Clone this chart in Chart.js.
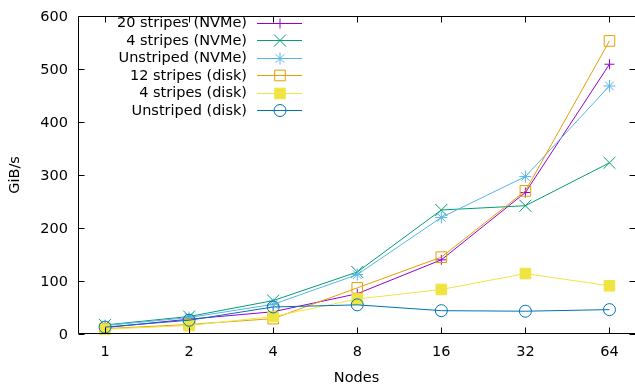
<!DOCTYPE html>
<html>
<head>
<meta charset="utf-8">
<script src="https://cdn.jsdelivr.net/npm/chart.js@4/dist/chart.umd.min.js"></script>
<style>
  html, body { margin: 0; padding: 0; background: #fff; }
  #wrap { width: 635px; height: 388px; position: relative; }
</style>
</head>
<body>
<div id="wrap"><canvas id="c" width="635" height="388"></canvas></div>
<script>
// ---- data ----
const nodes = [1, 2, 4, 8, 16, 32, 64];
const stripes20Nvme = [12, 28, 42, 76, 140, 267, 509];
const stripes4Nvme = [17, 33, 63, 117, 234, 242, 323];
const unstripedNvme = [16, 31, 56, 112, 220, 297, 468];
const stripes12Disk = [10, 18, 29, 87, 145, 270, 553];
const stripes4Disk = [9, 16, 33, 66, 84, 114, 91];
const unstripedDisk = [13, 26, 51, 55, 44, 43, 46];
const seriesLabels = ['20 stripes (NVMe)', '4 stripes (NVMe)', 'Unstriped (NVMe)', '12 stripes (disk)', '4 stripes (disk)', 'Unstriped (disk)'];
const yTicks = [0, 100, 200, 300, 400, 500, 600];

const FONT = "'DejaVu Sans', sans-serif";
const FS = 14.5;

function pts(vals) { return nodes.map((n, i) => ({ x: n, y: vals[i] })); }

const styles = [
  { color: '#9400d3', pointStyle: 'cross', radius: 5, fill: false },
  { color: '#009e73', pointStyle: 'crossRot', radius: 8.5, fill: false },
  { color: '#56b4e9', pointStyle: 'star', radius: 6, fill: false },
  { color: '#e69f00', pointStyle: 'rect', radius: 7.5, fill: false },
  { color: '#f0e442', pointStyle: 'rect', radius: 7.5, fill: true },
  { color: '#0072b2', pointStyle: 'circle', radius: 6, fill: false }
];
const allValues = [stripes20Nvme, stripes4Nvme, unstripedNvme, stripes12Disk, stripes4Disk, unstripedDisk];

const datasets = allValues.map((vals, i) => ({
  label: seriesLabels[i],
  data: pts(vals),
  borderColor: styles[i].color,
  backgroundColor: styles[i].fill ? styles[i].color : 'rgba(0,0,0,0)',
  pointBackgroundColor: styles[i].fill ? styles[i].color : 'rgba(0,0,0,0)',
  pointBorderColor: styles[i].color,
  pointStyle: styles[i].pointStyle,
  pointRadius: styles[i].radius,
  pointBorderWidth: 1,
  borderWidth: 1,
  tension: 0,
  fill: false,
  clip: false,
  order: 10 - i
}));

// gnuplot-like frame, inward mirrored ticks and key
const framePlugin = {
  id: 'frame',
  afterDraw(chart) {
    const ctx = chart.ctx;
    const a = chart.chartArea;
    const xs = chart.scales.x, ys = chart.scales.y;
    ctx.save();
    ctx.strokeStyle = '#000';
    ctx.lineWidth = 1;
    ctx.beginPath();
    const L = Math.round(a.left) + 0.5, R = Math.round(a.right) + 0.5;
    const T = Math.round(a.top) + 0.5, B = Math.round(a.bottom) - 0.5;
    ctx.rect(L, T, R - L, B - T);
    const tl = 6;
    nodes.forEach(n => {
      const px = Math.round(xs.getPixelForValue(n)) + 0.5;
      ctx.moveTo(px, B); ctx.lineTo(px, B - tl);
      ctx.moveTo(px, T); ctx.lineTo(px, T + tl);
    });
    yTicks.forEach(v => {
      const py = Math.round(ys.getPixelForValue(v)) + 0.5;
      ctx.moveTo(L, py); ctx.lineTo(L + tl, py);
      ctx.moveTo(R, py); ctx.lineTo(R - tl, py);
    });
    ctx.stroke();

    // key
    const textRight = 247, lineL = 257, lineR = 302, markX = 280;
    const y0 = 22.5, dy = 17.5;
    ctx.font = FS + 'px ' + FONT;
    ctx.textAlign = 'right';
    ctx.textBaseline = 'middle';
    chart.data.datasets.forEach((ds, i) => {
      const y = y0 + i * dy;
      ctx.fillStyle = '#000';
      ctx.fillText(ds.label, textRight, y + 1);
      ctx.strokeStyle = ds.borderColor;
      ctx.lineWidth = 1;
      ctx.beginPath();
      ctx.moveTo(lineL, Math.round(y) + 0.5);
      ctx.lineTo(lineR, Math.round(y) + 0.5);
      ctx.stroke();
      ctx.fillStyle = ds.pointBackgroundColor;
      ctx.strokeStyle = ds.pointBorderColor;
      ctx.lineWidth = 1;
      if (Chart.helpers && Chart.helpers.drawPoint) {
        Chart.helpers.drawPoint(ctx, { pointStyle: ds.pointStyle, radius: ds.pointRadius, borderWidth: 1, rotation: 0 }, markX, Math.round(y) + 0.5);
      }
    });
    ctx.restore();
  }
};

new Chart(document.getElementById('c'), {
  type: 'line',
  data: { datasets },
  options: {
    responsive: false,
    animation: false,
    devicePixelRatio: 1,
    layout: { autoPadding: false, padding: { top: 16, right: 0, left: 0, bottom: 0 } },
    plugins: { legend: { display: false }, tooltip: { enabled: false } },
    scales: {
      x: {
        type: 'logarithmic',
        min: 0.8,
        max: 79,
        afterBuildTicks(scale) { scale.ticks = nodes.map(v => ({ value: v })); },
        afterFit(scale) { scale.height = 54; scale.paddingLeft = 0; scale.paddingRight = 0; },
        grid: { display: false, drawTicks: false },
        border: { display: false },
        ticks: {
          color: '#000',
          font: { family: FONT, size: FS },
          padding: 10,
          autoSkip: false,
          maxRotation: 0,
          callback: (v) => String(v)
        },
        title: { display: true, text: 'Nodes', color: '#000', font: { family: FONT, size: FS }, padding: { top: 0, bottom: 1 } }
      },
      y: {
        type: 'linear',
        min: 0,
        max: 600,
        afterBuildTicks(scale) { scale.ticks = yTicks.map(v => ({ value: v })); },
        afterFit(scale) { scale.width = 78; scale.paddingTop = 0; scale.paddingBottom = 0; },
        grid: { display: false, drawTicks: false },
        border: { display: false },
        ticks: {
          color: '#000',
          font: { family: FONT, size: FS },
          padding: 10,
          labelOffset: 1.5,
          callback: (v) => String(v)
        },
        title: { display: true, text: 'GiB/s', color: '#000', font: { family: FONT, size: FS }, padding: { top: 7, bottom: 0 } }
      }
    }
  },
  plugins: [framePlugin]
});
</script>
</body>
</html>
